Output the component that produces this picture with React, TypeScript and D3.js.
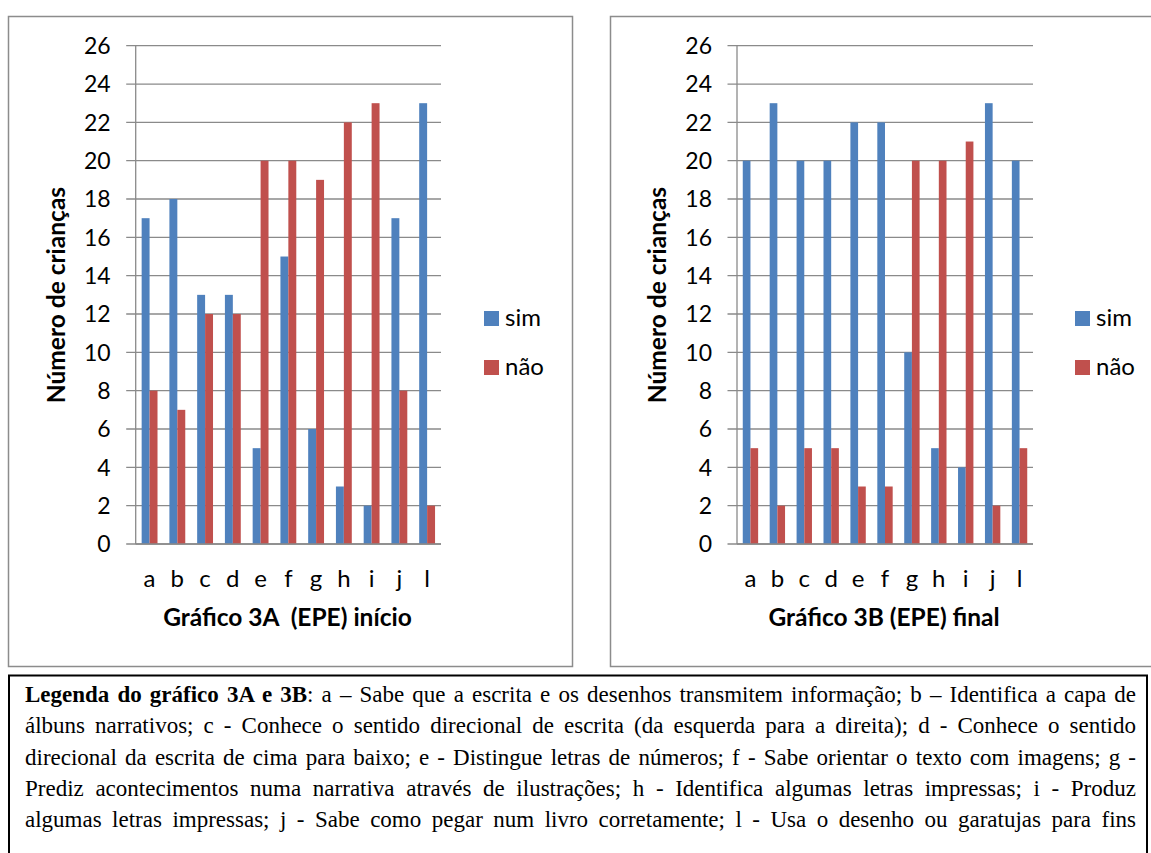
import React, { useEffect, useRef } from 'react';
import * as d3 from 'd3';

// Categories (skills a–l) and counts of children per answer
const categories = ['a', 'b', 'c', 'd', 'e', 'f', 'g', 'h', 'i', 'j', 'l'];
const simInicio = [17, 18, 13, 13, 5, 15, 6, 3, 2, 17, 23];
const naoInicio = [8, 7, 12, 12, 20, 20, 19, 22, 23, 8, 2];
const simFinal = [20, 23, 20, 20, 22, 22, 10, 5, 4, 23, 20];
const naoFinal = [5, 2, 5, 5, 3, 3, 20, 20, 21, 2, 5];
const yTicks = d3.range(0, 27, 2);
const seriesNames = ['sim', 'não'];
const seriesColors = ['#4F81BD', '#C0504D'];

const yAxisTitle = 'Número de crianças';
const titleInicio = 'Gráfico 3A  (EPE) início';
const titleFinal = 'Gráfico 3B (EPE) final';

// Caption below the charts, one entry per printed line; bold runs marked with **
const captionLines = [
  '**Legenda do gráfico 3A e 3B**: a – Sabe que a escrita e os desenhos transmitem informação; b – Identifica a capa de',
  'álbuns narrativos; c - Conhece o sentido direcional de escrita (da esquerda para a direita); d - Conhece o sentido',
  'direcional da escrita de cima para baixo; e - Distingue letras de números; f - Sabe orientar o texto com imagens; g -',
  'Prediz acontecimentos numa narrativa através de ilustrações; h - Identifica algumas letras impressas; i - Produz',
  'algumas letras impressas; j - Sabe como pegar num livro corretamente; l - Usa o desenho ou garatujas para fins',
];

const FONT = 'Lato, "Open Sans", sans-serif';
const GRID = '#8a8a8a';

type ChartProps = {
  boxX: number;
  boxW: number;
  x0: number;
  x1: number;
  yTitleX: number;
  titleX: number;
  legendX: number;
  title: string;
  sim: number[];
  nao: number[];
};

function BarChart({ boxX, boxW, x0, x1, yTitleX, titleX, legendX, title, sim, nao }: ChartProps) {
  const y = d3.scaleLinear().domain([0, 26]).range([544, 45.7]);
  const x = d3.scaleBand<string>().domain(categories).range([x0, x1]).paddingInner(0).paddingOuter(0);
  const sub = d3
    .scaleBand<string>()
    .domain(seriesNames)
    .range([0, x.bandwidth()])
    .paddingInner(0)
    .paddingOuter(0.75);
  const values = [sim, nao];

  return (
    <g>
      <rect x={boxX} y={16.5} width={boxW} height={650} fill="#fff" stroke="#8c8c8c" strokeWidth={1.5} />
      {yTicks.map((t) => (
        <g key={t}>
          <line x1={x0 - 9.5} x2={x1} y1={y(t)} y2={y(t)} stroke={GRID} strokeWidth={1.3} />
          <text
            x={x0 - 25}
            y={y(t)}
            dy="0.36em"
            textAnchor="end"
            fontFamily={FONT}
            fontSize={23}
            fill="#000"
          >
            {t}
          </text>
        </g>
      ))}
      <line x1={x0} x2={x0} y1={y(26)} y2={y(0)} stroke={GRID} strokeWidth={1.3} />
      {categories.map((c, i) => (
        <g key={c}>
          {seriesNames.map((s, k) => (
            <rect
              key={s}
              x={(x(c) as number) + (sub(s) as number)}
              y={y(values[k][i])}
              width={sub.bandwidth()}
              height={y(0) - y(values[k][i])}
              fill={seriesColors[k]}
            />
          ))}
          <text
            x={(x(c) as number) + x.bandwidth() / 2}
            y={586.7}
            textAnchor="middle"
            fontFamily={FONT}
            fontSize={24}
            fill="#000"
          >
            {c}
          </text>
        </g>
      ))}
      <line x1={x0} x2={x1} y1={y(0)} y2={y(0)} stroke={GRID} strokeWidth={1.3} />
      <text
        transform={`translate(${yTitleX},295) rotate(-90)`}
        textAnchor="middle"
        fontFamily={FONT}
        fontWeight="bold"
        fontSize={24.5}
        fill="#000"
      >
        {yAxisTitle}
      </text>
      <text
        x={titleX}
        y={626}
        textAnchor="middle"
        fontFamily={FONT}
        fontWeight="bold"
        fontSize={24.5}
        fill="#000"
        style={{ whiteSpace: 'pre' }}
      >
        {title}
      </text>
      {seriesNames.map((s, k) => (
        <g key={s}>
          <rect x={legendX} y={311 + k * 49} width={15} height={15} fill={seriesColors[k]} />
          <text x={legendX + 21} y={326 + k * 48.5} fontFamily={FONT} fontSize={24} fill="#000">
            {s}
          </text>
        </g>
      ))}
    </g>
  );
}

function Caption() {
  const ref = useRef<SVGGElement>(null);
  const left = 25;
  const right = 1136;
  const baseline0 = 702;
  const lineGap = 31.3;

  useEffect(() => {
    const g = d3.select(ref.current);
    g.selectAll('*').remove();
    captionLines.forEach((line, li) => {
      const text = g
        .append('text')
        .attr('x', left)
        .attr('y', baseline0 + li * lineGap)
        .attr('font-family', '"Liberation Serif", "Times New Roman", serif')
        .attr('font-size', 23)
        .attr('fill', '#000')
        .style('white-space', 'pre');
      const parts = line.split('**');
      parts.forEach((p, pi) => {
        if (!p) return;
        text
          .append('tspan')
          .attr('font-weight', pi % 2 === 1 ? 'bold' : 'normal')
          .text(p);
      });
      const node = text.node() as SVGTextElement;
      const natural = node.getComputedTextLength();
      const spaces = (line.replace(/\*\*/g, '').match(/ /g) || []).length;
      if (spaces > 0) {
        text.attr('word-spacing', (right - left - natural) / spaces);
      }
    });
  }, []);

  return (
    <g>
      <rect x={9} y={675.5} width={1138} height={200} fill="#fff" stroke="#000" strokeWidth={2} />
      <g ref={ref} />
    </g>
  );
}

export default function App() {
  return (
    <svg
      width={1151}
      height={853}
      viewBox="0 0 1151 853"
      style={{ position: 'absolute', left: 0, top: 0, background: '#fff' }}
    >
      <rect width={1151} height={853} fill="#fff" />
      <BarChart
        boxX={8.5}
        boxW={564}
        x0={135.7}
        x1={441}
        yTitleX={65}
        titleX={287.5}
        legendX={484}
        title={titleInicio}
        sim={simInicio}
        nao={naoInicio}
      />
      <BarChart
        boxX={610.5}
        boxW={560}
        x0={737}
        x1={1033}
        yTitleX={666}
        titleX={884}
        legendX={1075}
        title={titleFinal}
        sim={simFinal}
        nao={naoFinal}
      />
      <Caption />
    </svg>
  );
}
